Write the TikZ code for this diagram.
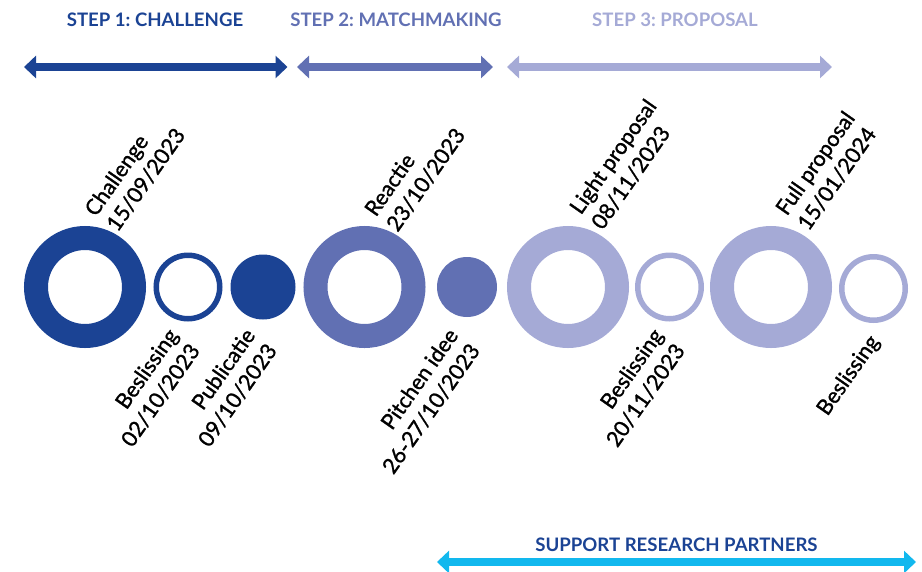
\documentclass[tikz,border=0pt]{standalone}
\usepackage{fontspec}
\setmainfont{Lato}
\newfontfamily\labelfont[FakeBold=1.3]{Lato}
\usepackage{tikz}
\usetikzlibrary{arrows.meta,positioning}

\definecolor{stepone}{HTML}{1B4394}
\definecolor{steptwo}{HTML}{6170B3}
\definecolor{stepthree}{HTML}{A5AAD6}
\definecolor{support}{HTML}{12B8EE}

\tikzset{
  phase/.style={line width=8pt, {Triangle[length=12pt,width=22pt]}-{Triangle[length=12pt,width=22pt]}},
  title/.style={font=\fontsize{18.6}{22}\selectfont\bfseries, inner sep=0pt},
  bigring/.style={circle, draw=#1, line width=24pt, minimum size=98pt, inner sep=0pt},
  smallring/.style={circle, draw=#1, line width=5.5pt, minimum size=63.5pt, inner sep=0pt},
  dot/.style={circle, fill=#1, inner sep=0pt},
  uplabel/.style={rotate=55, anchor=south west, align=left, inner sep=0pt, font=\labelfont\fontsize{21.5}{26.5}\selectfont},
  downlabel/.style={rotate=55, anchor=south east, align=right, inner sep=0pt, font=\labelfont\fontsize{21.5}{26.5}\selectfont}
}

\begin{document}
\frenchspacing
\begin{tikzpicture}[x=1pt,y=1pt]
\useasboundingbox (0,0) rectangle (922,-571);

% steps
\node[title, text=stepone] (t1) at (155,-20) {STEP 1: CHALLENGE};
\node[title, text=steptwo] (t2) at (396,-20) {STEP 2: MATCHMAKING};
\node[title, text=stepthree] (t3) at (675,-20) {STEP 3: PROPOSAL};
\coordinate (a1l) at (24,-67);  \coordinate (a1r) at (287.5,-67);
\coordinate (a2l) at (297,-67); \coordinate (a2r) at (493,-67);
\coordinate (a3l) at (507,-67); \coordinate (a3r) at (832,-67);
\draw[phase, stepone] (a1l) -- (a1r);
\draw[phase, steptwo] (a2l) -- (a2r);
\draw[phase, stepthree] (a3l) -- (a3r);

% milestones
\node[bigring=stepone] (c1) at (85,-287) {};
\node[smallring=stepone] (c2) at (188,-287) {};
\node[dot=stepone, minimum size=65pt] (c3) at (263,-287) {};
\node[bigring=steptwo] (c4) at (364.5,-287) {};
\node[dot=steptwo, minimum size=60pt] (c5) at (467,-287) {};
\node[bigring=stepthree] (c6) at (568,-287) {};
\node[smallring=stepthree] (c7) at (669.5,-287) {};
\node[bigring=stepthree] (c8) at (771,-287) {};
\node[smallring=stepthree] (c9) at (873.5,-288.5) {};

% labels
\node[uplabel] (l1) at ([shift={(33.5,53.4)}]c1.center) {Challenge\\15/09/2023};
\node[downlabel] (l2) at ([shift={(13.8,-64.2)}]c2.center) {Beslissing\\02/10/2023};
\node[downlabel] (l3) at ([shift={(15.8,-64.2)}]c3.center) {Publicatie\\09/10/2023};
\node[uplabel] (l4) at ([shift={(34,53.4)}]c4.center) {Reactie\\23/10/2023};
\node[downlabel] (l5) at ([shift={(14.8,-64.2)}]c5.center) {Pitchen idee\\26-27/10/2023};
\node[uplabel] (l6) at ([shift={(35.5,55.4)}]c6.center) {Light proposal\\08/11/2023};
\node[downlabel] (l7) at ([shift={(17.3,-64.2)}]c7.center) {Beslissing\\20/11/2023};
\node[uplabel] (l8) at ([shift={(38.5,54.4)}]c8.center) {Full proposal\\15/01/2024};
\node[downlabel] (l9) at ([shift={(10,-55.4)}]c9.center) {Beslissing};

% support
\node[title, text=stepone] (t4) at (676.5,-545) {SUPPORT RESEARCH PARTNERS};
\coordinate (a4l) at (437,-562); \coordinate (a4r) at (916,-562);
\draw[phase, support] (a4l) -- (a4r);
\end{tikzpicture}
\end{document}
